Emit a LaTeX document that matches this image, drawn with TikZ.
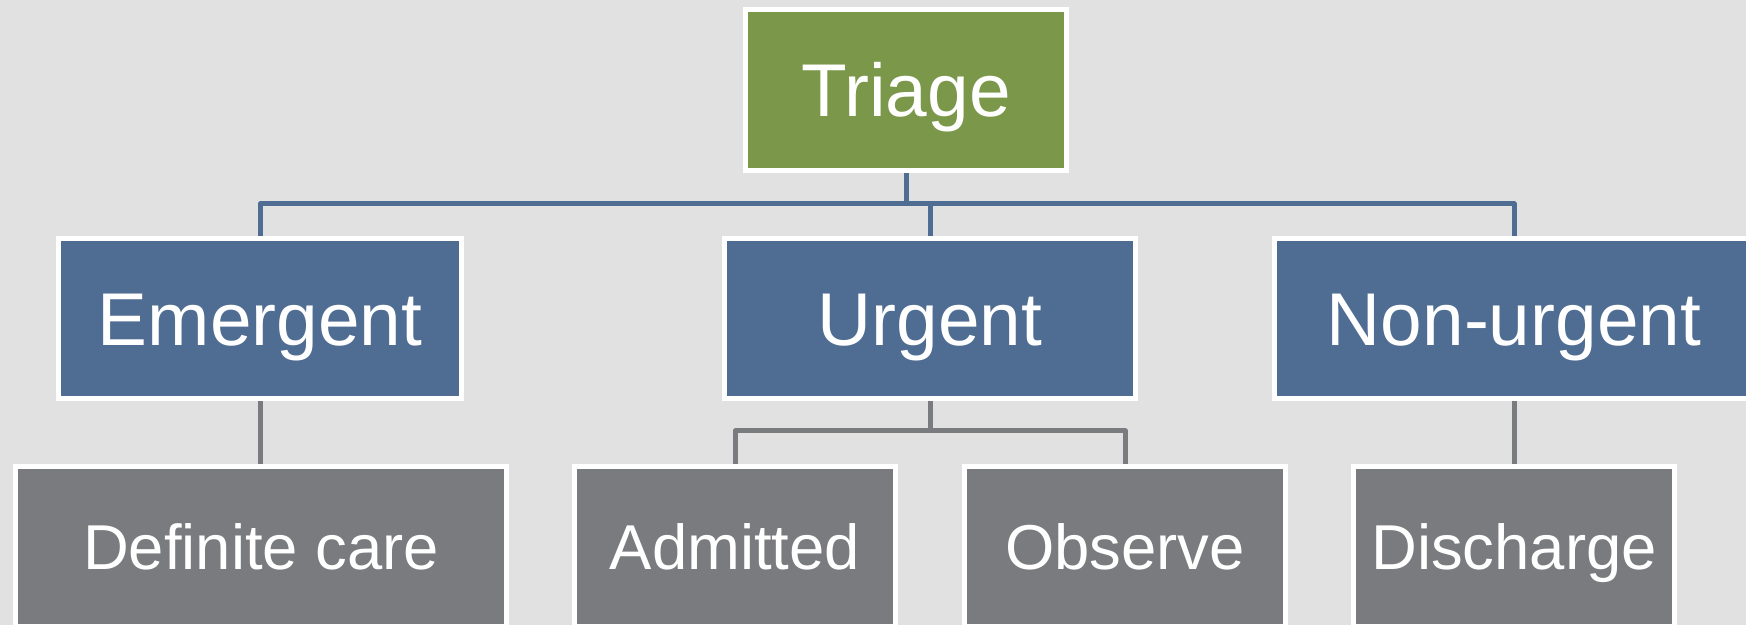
\documentclass[tikz,border=0pt]{standalone}
\usepackage{fontspec}
\setmainfont{Liberation Sans}
\usetikzlibrary{positioning, backgrounds}
\definecolor{bgSlide}{RGB}{225, 225, 225}
\definecolor{cRootFill}{RGB}{123, 152, 74}
\definecolor{cLevelFill}{RGB}{79, 109, 146}
\definecolor{cLeafFill}{RGB}{122, 123, 127}
\definecolor{lineBlue}{RGB}{79, 109, 146}
\definecolor{lineGray}{RGB}{122, 123, 127}
\tikzset{
    % --- base box ---
    baseBlock/.style={
        rectangle, draw=white, line width=2.5pt, text=white,
        align=center, inner sep=0pt, text depth=0pt
    },
    % top of the tree
    styleRoot/.style={
        baseBlock, fill=cRootFill, font=\fontsize{37.4}{44}\selectfont,
        text height=26.8pt,
        minimum width=160.5pt, minimum height=80.5pt
    },
    % second row
    styleLevel/.style={
        baseBlock, fill=cLevelFill, font=\fontsize{37.4}{44}\selectfont,
        text height=26.8pt, minimum height=80pt
    },
    % third row
    styleLeaf/.style={
        baseBlock, fill=cLeafFill, font=\fontsize{31.7}{38}\selectfont,
        text height=22.7pt,
        minimum width=160.5pt, minimum height=80pt
    },
    % --- connectors ---
    connTop/.style={draw=lineBlue, line width=2.5pt, line join=round},
    connLow/.style={draw=lineGray, line width=2.5pt, line join=round}
}

\begin{document}
\begin{tikzpicture}[x=0.5pt, y=-0.5pt]

	\useasboundingbox (0,0) rectangle (1746,625);
	\clip (0,0) rectangle (1746,625);

	% --- Row 1 ---
	\node [styleRoot] (triage) at (906,90) {Triage};

	% --- Row 2 ---
	\node [styleLevel, minimum width=201.5pt] (emergent)  at (260,318.5)  {Emergent};
	\node [styleLevel, minimum width=205.5pt] (urgent)    at (930,318.5)  {Urgent};
	\node [styleLevel, minimum width=239.5pt] (nonurgent) at (1514,318.5) {Non-urgent};

	% --- Row 3 ---
	\node [styleLeaf, minimum width=245.5pt] (definite) at (261,546.5) {Definite care};
	\node [styleLeaf] (admitted)  at (735,546.5)  {Admitted};
	\node [styleLeaf] (observe)   at (1125,546.5) {Observe};
	\node [styleLeaf] (discharge) at (1514,546.5) {Discharge};

	% --- background and connectors ---
	\begin{scope}[on background layer]
		\fill [bgSlide] (0,0) rectangle (1746,625);

		\draw [connTop] (triage.south) -- ++(0,31) coordinate (busTop);
		\draw [connTop] (busTop) -| (emergent.north);
		\draw [connTop] (busTop) -| (urgent.north);
		\draw [connTop] (busTop) -| (nonurgent.north);

		\draw [connLow] (emergent.south) -- (emergent.south |- definite.north);
		\draw [connLow] (urgent.south) -- ++(0,30) coordinate (busLow);
		\draw [connLow] (busLow) -| (admitted.north);
		\draw [connLow] (busLow) -| (observe.north);
		\draw [connLow] (nonurgent.south) -- (discharge.north);
	\end{scope}

\end{tikzpicture}
\end{document}
